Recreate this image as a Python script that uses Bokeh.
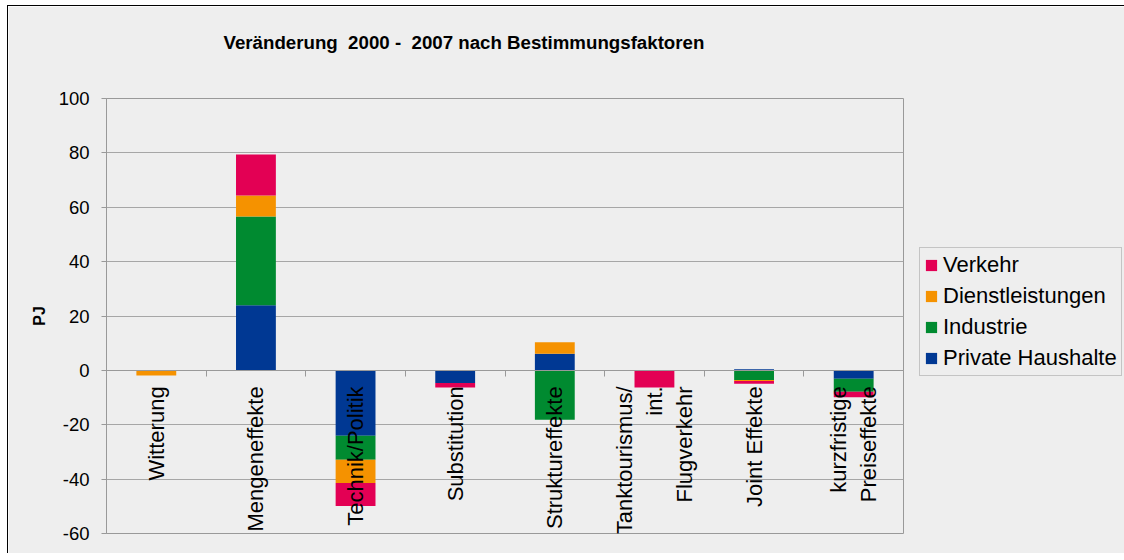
import math
from bokeh.plotting import figure
from bokeh.models import (ColumnDataSource, Range1d, FixedTicker, Legend, LegendItem, Title)
from bokeh.embed import file_html
from bokeh.resources import INLINE

categories = ["Witterung", "Mengeneffekte", "Technik/Politik", "Substitution",
              "Struktureffekte", "Tanktourismus/\nint.\nFlugverkehr", "Joint Effekte",
              "kurzfristige\nPreiseffekte"]
series_names = ["Private Haushalte", "Industrie", "Dienstleistungen", "Verkehr"]
haushalte = [0.0, 24.0, -24.0, -4.6, 6.1, 0.0, 0.4, -3.1]
industrie = [0.0, 32.6, -8.9, 0.0, -18.2, 0.0, -3.5, -4.8]
dienstleistungen = [-1.9, 7.7, -8.5, 0.0, 4.2, 0.0, -0.4, 0.0]
verkehr = [0.0, 15.1, -8.5, -1.7, 0.0, -6.3, -1.0, -2.0]
colors = ["#003893", "#008A30", "#F59200", "#E30054"]
y_ticks = [-60, -40, -20, 0, 20, 40, 60, 80, 100]
title_text = "Veränderung\u00a0 2000 -\u00a0 2007 nach Bestimmungsfaktoren"
y_label = "PJ"

FONT = "Liberation Sans"
BG = "#EEEEEE"
GRID = "#A6A6A6"

p = figure(frame_width=797, frame_height=435, output_backend="svg", toolbar_location=None,
           x_range=Range1d(0, len(categories)), y_range=Range1d(-60, 100),
           min_border_left=98, min_border_top=92, min_border_right=213, min_border_bottom=20,
           background_fill_color=BG, border_fill_color=BG, outline_line_color="#999999")
p.styles = {"border-left": "1px solid #000000", "border-top": "1px solid #000000",
            "margin-left": "7px", "margin-top": "5px"}

xs = [i + 0.5 for i in range(len(categories))]
pos_base = [0.0] * len(categories)
neg_base = [0.0] * len(categories)
renderers = {}
for name, vals, col in zip(series_names, [haushalte, industrie, dienstleistungen, verkehr], colors):
    bottoms, tops = [], []
    for i, v in enumerate(vals):
        if v >= 0:
            bottoms.append(pos_base[i]); tops.append(pos_base[i] + v); pos_base[i] += v
        else:
            bottoms.append(neg_base[i]); tops.append(neg_base[i] + v); neg_base[i] += v
    src = ColumnDataSource(dict(x=xs, bottom=bottoms, top=tops))
    renderers[name] = p.vbar(x="x", width=0.4, bottom="bottom", top="top", source=src,
                             fill_color=col, line_color=None)

# title: a blank spacer title next to the frame, then the real title above it
spacer = Title(text=" ", text_font_size="10px", standoff=28, text_color=BG)
p.add_layout(spacer, "above")
main_title = Title(text=title_text, align="left", offset=117, standoff=10,
                   text_font=FONT, text_font_style="bold", text_font_size="18.7px",
                   text_color="#000000")
p.add_layout(main_title, "above")

# y axis
p.yaxis.ticker = FixedTicker(ticks=y_ticks)
p.yaxis.major_label_overrides = {t: str(t) for t in y_ticks}
p.yaxis.axis_line_color = "#999999"
p.yaxis.major_tick_line_color = "#999999"
p.yaxis.major_tick_out = 5
p.yaxis.major_tick_in = 0
p.yaxis.minor_tick_line_color = None
p.yaxis.major_label_text_font = FONT
p.yaxis.major_label_text_font_size = "18.5px"
p.yaxis.major_label_text_color = "#000000"
p.yaxis.major_label_standoff = 12
p.yaxis.axis_label = y_label
p.yaxis.axis_label_text_font = FONT
p.yaxis.axis_label_text_font_style = "bold"
p.yaxis.axis_label_text_font_size = "16px"
p.yaxis.axis_label_text_color = "#000000"
p.yaxis.axis_label_standoff = 8

# x axis at y = 0
p.xaxis.fixed_location = 0
p.xaxis.ticker = FixedTicker(ticks=xs, minor_ticks=list(range(1, len(categories))))
p.xaxis.major_label_overrides = {x: c for x, c in zip(xs, categories)}
p.xaxis.major_label_orientation = math.pi / 2
p.xaxis.major_tick_line_color = None
p.xaxis.major_tick_out = 0
p.xaxis.major_tick_in = 0
p.xaxis.minor_tick_line_color = "#999999"
p.xaxis.minor_tick_out = 6
p.xaxis.minor_tick_in = 0
p.xaxis.axis_line_color = "#999999"
p.xaxis.major_label_text_font = FONT
p.xaxis.major_label_text_font_size = "22px"
p.xaxis.major_label_text_color = "#000000"
p.xaxis.major_label_standoff = 10

p.xgrid.grid_line_color = None
p.ygrid.ticker = FixedTicker(ticks=y_ticks)
p.ygrid.grid_line_color = GRID

legend_order = ["Verkehr", "Dienstleistungen", "Industrie", "Private Haushalte"]
legend = Legend(items=[LegendItem(label=n, renderers=[renderers[n]]) for n in legend_order],
                location=(16, 157), background_fill_color=BG, background_fill_alpha=1.0,
                border_line_color="#999999", label_text_font=FONT, label_text_font_size="22px",
                label_text_color="#000000", glyph_width=14, glyph_height=14, label_standoff=5,
                padding=4, spacing=5, margin=0)
p.add_layout(legend, "right")

html = file_html(p, INLINE)
html = html.replace("<body>", '<body style="background-color:#EEEEEE">', 1)
open("out.html", "w").write(html)
